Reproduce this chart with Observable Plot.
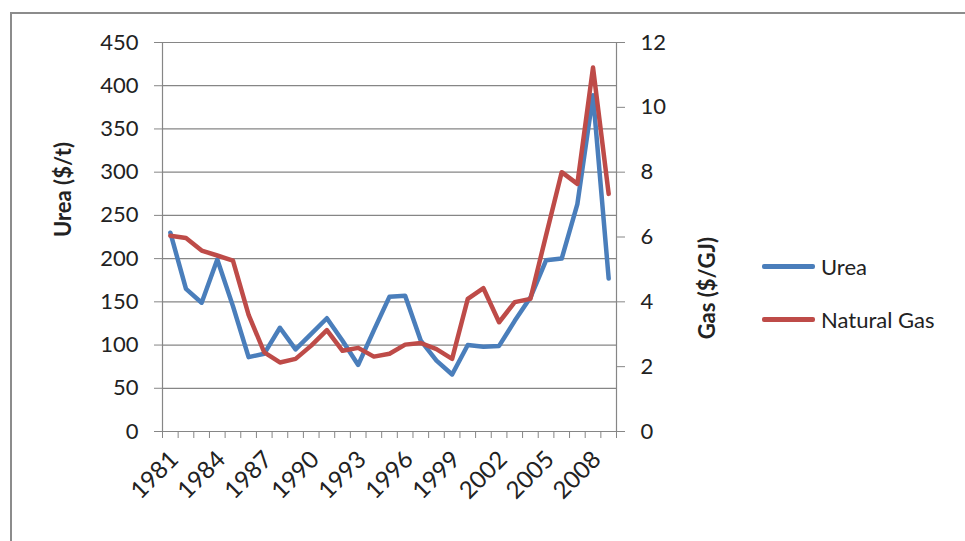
<!DOCTYPE html>
<html>
<head>
<meta charset="utf-8">
<script src="https://cdn.jsdelivr.net/npm/d3@7"></script>
<script src="https://cdn.jsdelivr.net/npm/@observablehq/plot@0.6"></script>
<style>
  body { margin: 0; background: #fff; }
  #wrap { position: relative; width: 965px; height: 541px; overflow: hidden; font-family: Lato, "Open Sans", sans-serif; }
  #border { position: absolute; left: 10px; top: 12px; width: 1000px; height: 600px; border: 2px solid #8c8c8c; box-sizing: border-box; }
  #chart { position: absolute; left: 0; top: 0; }
  .legend { position: absolute; left: 762px; font-size: 22px; color: #222; display: flex; align-items: center; }
  .legend .swatch { width: 53px; height: 5px; border-radius: 2px; margin-right: 6px; }
</style>
</head>
<body>
<div id="wrap">
  <div id="border"></div>
  <div id="chart"></div>
</div>
<script>
// Annual prices, 1981–2009
const years = [1981, 1982, 1983, 1984, 1985, 1986, 1987, 1988, 1989, 1990,
               1991, 1992, 1993, 1994, 1995, 1996, 1997, 1998, 1999, 2000,
               2001, 2002, 2003, 2004, 2005, 2006, 2007, 2008, 2009];
// Urea, $/t (left axis)
const urea = [230, 165, 149, 199, 145, 86, 90, 120, 95, 113,
              131, 105, 77, 117, 156, 157, 105, 82, 66, 100,
              98, 99, 128, 155, 198, 200, 263, 389, 177];
// Natural gas, $/GJ (right axis)
const gas = [6.04, 5.97, 5.58, 5.43, 5.27, 3.60, 2.44, 2.13, 2.24, 2.65,
             3.13, 2.49, 2.58, 2.31, 2.40, 2.68, 2.73, 2.54, 2.24, 4.09,
             4.42, 3.37, 3.99, 4.09, 6.05, 8.00, 7.64, 11.23, 7.33];

const seriesNames = ["Urea", "Natural Gas"];
const seriesColors = ["#4a7ebb", "#be4b48"];
const labelYears = [1981, 1984, 1987, 1990, 1993, 1996, 1999, 2002, 2005, 2008];
const ureaTicks = [0, 50, 100, 150, 200, 250, 300, 350, 400, 450];
const gasTicks = [0, 2, 4, 6, 8, 10, 12];

// Gas is drawn against the urea scale: 12 $/GJ spans the same height as 450 $/t
const gasToUrea = 450 / 12;
const rows = years.map((year, i) => ({ year, urea: urea[i], gas: gas[i] * gasToUrea }));
// Category boundaries for the x-axis tick marks
const bounds = [years[0] - 0.5, ...years.map(y => y + 0.5)];

const axisColor = "#868686";
const textColor = "#222";

const chart = Plot.plot({
  width: 965,
  height: 541,
  marginLeft: 162,
  marginRight: 349,
  marginTop: 42,
  marginBottom: 110,
  x: { domain: [bounds[0], bounds[bounds.length - 1]] },
  y: { domain: [0, 450] },
  style: { fontFamily: "Lato, 'Open Sans', sans-serif", fontSize: "22px", color: textColor, background: "transparent", overflow: "visible" },
  marks: [
    Plot.ruleY(ureaTicks, { stroke: axisColor, strokeWidth: 1.2 }),
    Plot.ruleX([bounds[0], bounds[bounds.length - 1]], { stroke: axisColor, strokeWidth: 1.2 }),
    Plot.axisY({ anchor: "left", ticks: ureaTicks, tickSize: 8, tickPadding: 16, stroke: axisColor, fill: textColor, label: null, tickFormat: d => String(d) }),
    Plot.axisY({ anchor: "right", ticks: gasTicks.map(g => g * gasToUrea), tickSize: 8, tickPadding: 16, stroke: axisColor, fill: textColor, label: null, tickFormat: d => String(Math.round(d / gasToUrea)) }),
    Plot.axisX({ ticks: bounds, tickSize: 7, stroke: axisColor, tickFormat: () => "", label: null }),
    Plot.axisX({ ticks: labelYears, tickSize: 0, tickPadding: 24, tickRotate: -45, textAnchor: "end", lineAnchor: "middle", dx: 4, fontSize: 24, fill: textColor, tickFormat: d => String(d), label: null }),
    Plot.line(rows, { x: "year", y: "urea", stroke: seriesColors[0], strokeWidth: 4.5, strokeLinejoin: "round" }),
    Plot.line(rows, { x: "year", y: "gas", stroke: seriesColors[1], strokeWidth: 4.5, strokeLinejoin: "round" }),
    Plot.text(["Urea ($/t)"], { frameAnchor: "left", dx: -99, rotate: -90, fontWeight: "bold", fontSize: 22, fill: textColor }),
    Plot.text(["Gas ($/GJ)"], { frameAnchor: "right", dx: 91, rotate: -90, fontWeight: "bold", fontSize: 22, fill: textColor })
  ]
});
document.getElementById("chart").appendChild(chart);

// Legend to the right of the plot
const wrap = document.getElementById("wrap");
const legendTops = [266, 319];
seriesNames.forEach((name, i) => {
  const item = document.createElement("div");
  item.className = "legend";
  item.style.top = (legendTops[i] - 15) + "px";
  item.style.height = "30px";
  const sw = document.createElement("div");
  sw.className = "swatch";
  sw.style.background = seriesColors[i];
  const label = document.createElement("span");
  label.textContent = name;
  item.appendChild(sw);
  item.appendChild(label);
  wrap.appendChild(item);
});
</script>
</body>
</html>
